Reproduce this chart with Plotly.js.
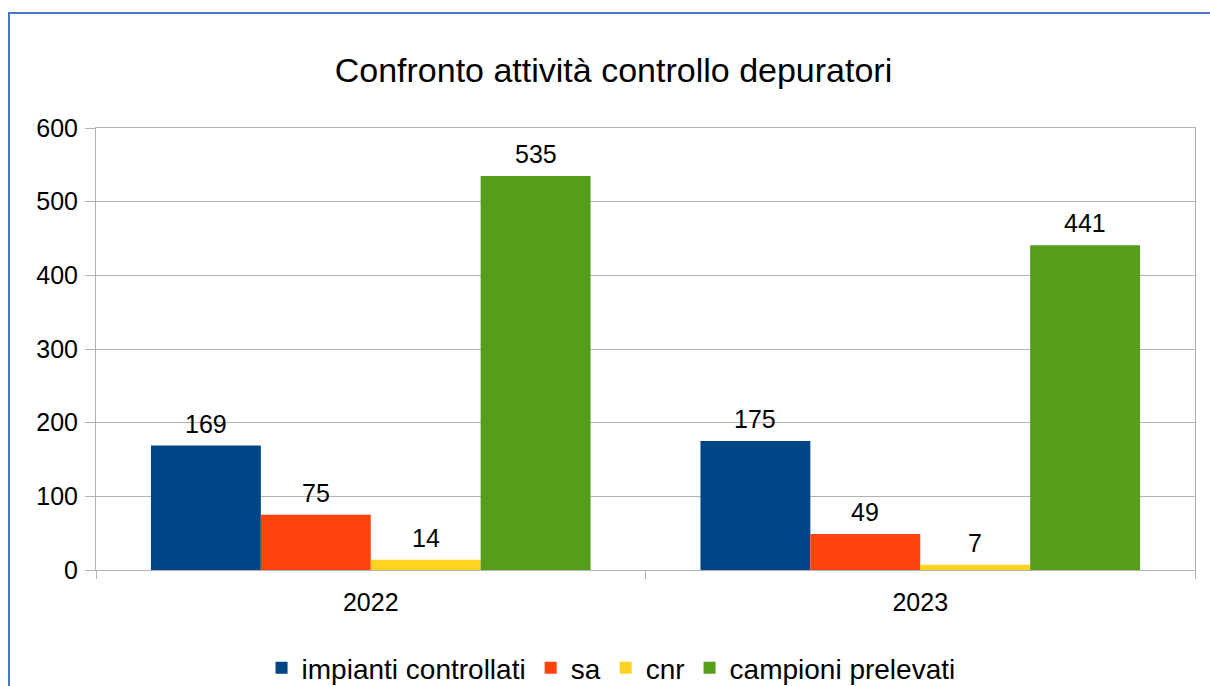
<!DOCTYPE html>
<html><head><meta charset="utf-8">
<script src="https://cdn.plot.ly/plotly-3.0.1.min.js"></script>
<style>
html,body{margin:0;padding:0;background:#fff;}
#frame{position:absolute;left:8px;top:12px;width:1210px;height:700px;border-left:2px solid #4a78c8;border-top:2px solid #4a78c8;pointer-events:none;z-index:10;}
#chart{position:absolute;left:0;top:0;width:1210px;height:686px;}
</style></head>
<body>
<div id="chart"></div>
<div id="frame"></div>
<script>
const years = ["2022", "2023"];
const seriesNames = ["impianti controllati", "sa", "cnr", "campioni prelevati"];
const impianti = [169, 175];
const sa = [75, 49];
const cnr = [14, 7];
const campioni = [535, 441];
const colors = ["#004586", "#ff420e", "#ffd320", "#579d1c"];
const yTicks = [0, 100, 200, 300, 400, 500, 600];

const allValues = [impianti, sa, cnr, campioni];
const FAM = "Liberation Sans, Arial, sans-serif";
const tickFont = {family: FAM, size: 25, color: "#000"};
const labelFont = {family: FAM, size: 25, color: "#000"};
const bargap = 0.2;
const nSeries = allValues.length;
const barW = (1 - bargap) / nSeries;

const traces = allValues.map((vals, i) => ({
  type: "bar",
  name: seriesNames[i],
  x: years,
  y: vals,
  marker: {color: colors[i], line: {width: 0}},
  hoverinfo: "none"
}));

// value labels placed above each bar, using the axis scales
const annotations = [];
allValues.forEach((vals, i) => {
  vals.forEach((v, j) => {
    annotations.push({
      x: j - (1 - bargap) / 2 + barW * (i + 0.5), xref: "x",
      y: v, yref: "y", yanchor: "bottom", yshift: 6,
      text: String(v), showarrow: false, font: labelFont
    });
  });
});

const layout = {
  width: 1210, height: 686,
  paper_bgcolor: "#fff", plot_bgcolor: "#fff",
  margin: {l: 96, r: 15, t: 128, b: 116},
  font: tickFont,
  title: {text: "Confronto attività controllo depuratori", font: {family: FAM, size: 34, color: "#000"},
          x: 0.507, xref: "container", xanchor: "center", y: 0.898, yref: "container", yanchor: "middle"},
  barmode: "group", bargap: bargap, bargroupgap: 0,
  xaxis: {type: "category", showgrid: false, showline: true, mirror: true, linecolor: "#b3b3b3", linewidth: 1,
          ticks: "outside", tickson: "boundaries", ticklen: 8, tickcolor: "#b3b3b3", tickfont: tickFont,
          ticklabelstandoff: 10},
  yaxis: {range: [0, 600], tickvals: yTicks, ticktext: yTicks.map(String), showgrid: true, gridcolor: "#b3b3b3", gridwidth: 1,
          showline: true, mirror: true, linecolor: "#b3b3b3", linewidth: 1, zeroline: false,
          ticks: "outside", ticklen: 10, tickcolor: "#b3b3b3", tickfont: tickFont, ticklabelstandoff: 2},
  annotations: annotations,
  showlegend: true,
  legend: {orientation: "h", x: 0.505, xref: "container", xanchor: "center", y: 0.026, yref: "container", yanchor: "middle",
           font: {family: FAM, size: 28, color: "#000"}, itemsizing: "constant", traceorder: "normal", itemwidth: 30}
};
Plotly.newPlot("chart", traces, layout, {staticPlot: true});
</script>
</body></html>
